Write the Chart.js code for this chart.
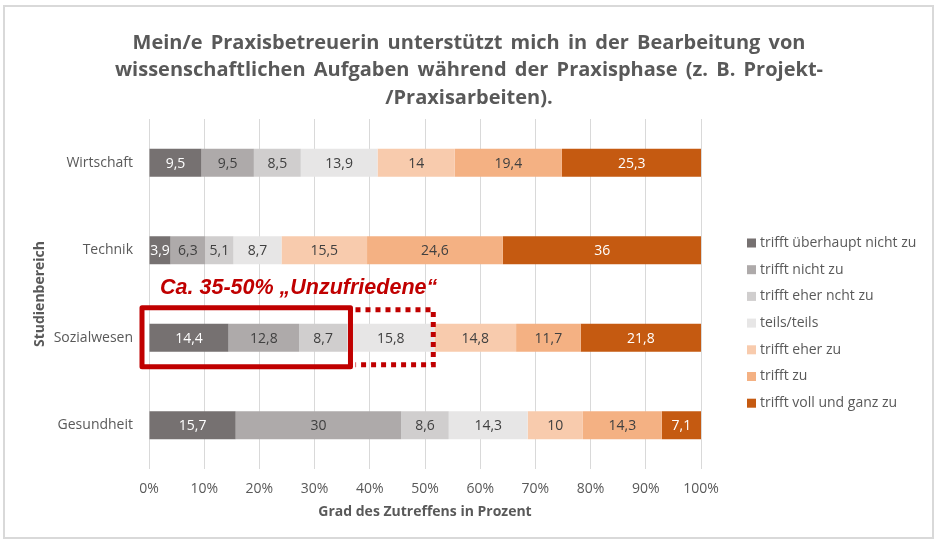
<!DOCTYPE html>
<html>
<head>
<meta charset="utf-8">
<script src="https://cdn.jsdelivr.net/npm/chart.js@4"></script>
<style>
  html, body { margin: 0; padding: 0; background: #fff; }
  #wrap { width: 938px; height: 546px; }
</style>
</head>
<body>
<div id="wrap"><canvas id="chart" width="938" height="546"></canvas></div>
<script>
const CATEGORIES = ['Wirtschaft', 'Technik', 'Sozialwesen', 'Gesundheit'];
const LEVELS = [
  'trifft überhaupt nicht zu', 'trifft nicht zu', 'trifft eher ncht zu', 'teils/teils',
  'trifft eher zu', 'trifft zu', 'trifft voll und ganz zu',
];
const UEBERHAUPT_NICHT = [9.5, 3.9, 14.4, 15.7];
const NICHT = [9.5, 6.3, 12.8, 30];
const EHER_NICHT = [8.5, 5.1, 8.7, 8.6];
const TEILS = [13.9, 8.7, 15.8, 14.3];
const EHER_ZU = [14, 15.5, 14.8, 10];
const ZU = [19.4, 24.6, 11.7, 14.3];
const VOLL = [25.3, 36, 21.8, 7.1];
const SERIES = [UEBERHAUPT_NICHT, NICHT, EHER_NICHT, TEILS, EHER_ZU, ZU, VOLL];

const COLORS = ['#767171', '#aeaaaa', '#d0cece', '#e7e6e6', '#f8cbad', '#f4b183', '#c55a11'];
const LABEL_COLORS = ['#ffffff', '#404040', '#404040', '#404040', '#404040', '#404040', '#ffffff'];

const TITLE = [
  'Mein/e Praxisbetreuerin unterstützt mich in der Bearbeitung von',
  'wissenschaftlichen Aufgaben während der Praxisphase (z. B. Projekt-',
  '/Praxisarbeiten).',
];
const NOTE = 'Ca. 35-50% \u201EUnzufriedene\u201C';
const NOTE_SOLID_END = 36.5;   // Prozent
const NOTE_DOTTED_END = 51.5;
const NOTE_ROW = 2;

const TEXT = '#595959';
const FONT = '"Open Sans", "DejaVu Sans", sans-serif';

Chart.defaults.font.family = FONT;
Chart.defaults.color = TEXT;

const fmt = v => String(v).replace('.', ',');

// rahmen + titel ueber die ganze breite
const frame = {
  id: 'frame',
  beforeDraw(chart) {
    const ctx = chart.ctx;
    ctx.save();
    ctx.strokeStyle = '#d9d9d9';
    ctx.lineWidth = 2;
    ctx.strokeRect(4, 6, 929, 532);
    ctx.fillStyle = TEXT;
    ctx.font = 'bold 20px ' + FONT;
    ctx.textAlign = 'center';
    ctx.textBaseline = 'middle';
    if ('wordSpacing' in ctx) ctx.wordSpacing = '3px';
    TITLE.forEach((line, i) => ctx.fillText(line, chart.width / 2, 43 + i * 27.5));
    ctx.restore();
  },
};

// zahlen in den balken
const barLabels = {
  id: 'barLabels',
  afterDatasetsDraw(chart) {
    const ctx = chart.ctx;
    ctx.save();
    ctx.font = '14px ' + FONT;
    ctx.textAlign = 'center';
    ctx.textBaseline = 'middle';
    chart.data.datasets.forEach((ds, i) => {
      chart.getDatasetMeta(i).data.forEach((bar, j) => {
        const p = bar.getCenterPoint();
        ctx.fillStyle = LABEL_COLORS[i];
        ctx.fillText(fmt(ds.data[j]), p.x, p.y + 1);
      });
    });
    ctx.restore();
  },
};

// legende rechts
const sideLegend = {
  id: 'sideLegend',
  afterDraw(chart) {
    const ctx = chart.ctx;
    const area = chart.chartArea;
    ctx.save();
    ctx.font = '14px ' + FONT;
    ctx.textBaseline = 'middle';
    chart.data.datasets.forEach((ds, i) => {
      const y = area.top + 124 + i * 26.7;
      ctx.fillStyle = ds.backgroundColor;
      ctx.fillRect(area.right + 46, y - 4.5, 9, 9);
      ctx.fillStyle = TEXT;
      ctx.fillText(ds.label, area.right + 59, y);
    });
    ctx.restore();
  },
};

// rote markierung
const note = {
  id: 'note',
  afterDatasetsDraw(chart) {
    const ctx = chart.ctx;
    const x = chart.scales.x, y = chart.scales.y;
    const x0 = x.getPixelForValue(0) - 7;
    const x1 = x.getPixelForValue(NOTE_SOLID_END);
    const x2 = x.getPixelForValue(NOTE_DOTTED_END);
    const yc = y.getPixelForValue(NOTE_ROW);
    ctx.save();
    ctx.strokeStyle = '#c00000';
    ctx.lineWidth = 5;
    ctx.lineJoin = 'round';
    ctx.strokeRect(x0, yc - 30, x1 - x0, 59);
    ctx.setLineDash([5, 5]);
    ctx.lineJoin = 'miter';
    ctx.beginPath();
    ctx.moveTo(x1 + 5, yc - 28);
    ctx.lineTo(x2, yc - 28);
    ctx.lineTo(x2, yc + 27);
    ctx.lineTo(x1 + 5, yc + 27);
    ctx.stroke();
    ctx.setLineDash([]);
    ctx.fillStyle = '#c00000';
    ctx.font = 'italic bold 21.5px "Liberation Sans", Arial, sans-serif';
    ctx.textBaseline = 'middle';
    ctx.fillText(NOTE, x.getPixelForValue(2), yc - 50);
    ctx.restore();
  },
};

new Chart(document.getElementById('chart'), {
  type: 'bar',
  data: {
    labels: CATEGORIES,
    datasets: SERIES.map((data, i) => ({
      label: LEVELS[i],
      data,
      backgroundColor: COLORS[i],
      borderWidth: 0,
      barPercentage: 0.32,
      categoryPercentage: 1,
    })),
  },
  options: {
    indexAxis: 'y',
    responsive: false,
    animation: false,
    devicePixelRatio: 1,
    layout: { padding: { left: 0, top: 119, right: 237, bottom: 0 } },
    plugins: {
      legend: { display: false },
      tooltip: { enabled: false },
      title: { display: false },
    },
    scales: {
      x: {
        stacked: true,
        min: 0,
        max: 100,
        ticks: { stepSize: 10, callback: v => v + '%', padding: 12, color: TEXT, font: { size: 14 } },
        grid: { color: '#d9d9d9', drawTicks: false },
        border: { display: false },
        title: {
          display: true,
          text: 'Grad des Zutreffens in Prozent',
          color: TEXT,
          font: { size: 14, weight: 'bold' },
          padding: { top: 6, bottom: 26 },
        },
        afterFit(scale) { scale.height = 77; },
      },
      y: {
        stacked: true,
        ticks: { padding: 8, color: TEXT, font: { size: 14 } },
        grid: { display: false },
        border: { display: false },
        title: {
          display: true,
          text: 'Studienbereich',
          color: TEXT,
          font: { size: 14, weight: 'bold' },
          padding: { top: 32, bottom: 0 },
        },
        afterFit(scale) { scale.width = 149; },
      },
    },
  },
  plugins: [frame, barLabels, sideLegend, note],
});
</script>
</body>
</html>
